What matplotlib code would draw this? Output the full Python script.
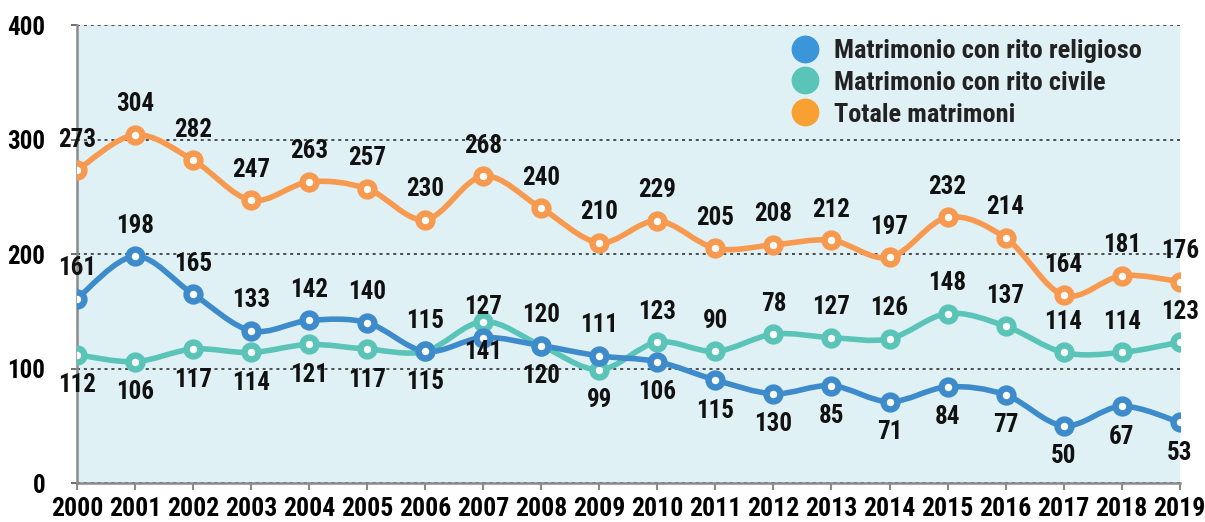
import numpy as np
import matplotlib.pyplot as plt
from matplotlib.path import Path
from matplotlib.patches import PathPatch
from matplotlib.lines import Line2D

plt.rcParams['font.family'] = ['Roboto Condensed', 'DejaVu Sans']
plt.rcParams['font.weight'] = 'bold'

years = list(range(2000, 2020))

# valori dei punti (posizione sul grafico)
religioso = [161, 198, 165, 133, 142, 140, 115, 127, 120, 111,
             106, 90, 78, 85, 71, 84, 77, 50, 67, 53]
civile = [112, 106, 117, 114, 121, 117, 115, 141, 120, 99,
          123, 115, 130, 127, 126, 148, 137, 114, 114, 123]
totale = [273, 304, 282, 247, 263, 257, 230, 268, 240, 210,
          229, 205, 208, 212, 197, 232, 214, 164, 181, 176]

# etichette come stampate nel grafico originale
lab_religioso = ['161', '198', '165', '133', '142', '140', '115', '127', '120', '111',
                 '106', '115', '130', '85', '71', '84', '77', '50', '67', '53']
lab_civile = ['112', '106', '117', '114', '121', '117', '115', '141', '120', '99',
              '123', '90', '78', '127', '126', '148', '137', '114', '114', '123']
lab_totale = [str(v) for v in totale]

# sopra (+1) o sotto (-1) il punto
pos_religioso = [1] * 10 + [-1] * 10
pos_civile = [-1] * 10 + [1] * 10
pos_totale = [1] * 20

c_rel = '#3d8bcb'
c_civ = '#5bc4b8'
c_tot = '#f7994e'


def smooth_path(x, y):
    pts = np.column_stack([x, y]).astype(float)
    n = len(pts)
    verts = [pts[0]]
    codes = [Path.MOVETO]
    for i in range(n - 1):
        p0 = pts[i - 1] if i > 0 else pts[i]
        p1 = pts[i]
        p2 = pts[i + 1]
        p3 = pts[i + 2] if i + 2 < n else pts[i + 1]
        c1 = p1 + (p2 - p0) / 6
        c2 = p2 - (p3 - p1) / 6
        verts += [c1, c2, p2]
        codes += [Path.CURVE4] * 3
    return Path(verts, codes)


fig = plt.figure(figsize=(12.05, 5.22), dpi=100)
ax = fig.add_axes([0.0639, 0.0747, 0.9151, 0.8773])
ax.set_facecolor('#e0f1f6')

for vals, labs, pos, col in [(civile, lab_civile, pos_civile, c_civ),
                             (religioso, lab_religioso, pos_religioso, c_rel),
                             (totale, lab_totale, pos_totale, c_tot)]:
    ax.add_patch(PathPatch(smooth_path(years, vals), fill=False, edgecolor=col,
                           lw=4, capstyle='round', joinstyle='round', zorder=3))
    ax.plot(years, vals, 'o', ls='none', ms=10, mew=4.6, mec=col, mfc='white', zorder=4)
    for x, v, t, p in zip(years, vals, labs, pos):
        ax.annotate(t, (x, v), xytext=(0, 22 * p), textcoords='offset points',
                    ha='center', va='center', fontsize=18, fontweight='bold',
                    color='#111111', zorder=5)

ax.set_xlim(2000, 2019)
ax.set_ylim(0, 400)
ax.set_xticks(years)
ax.set_yticks([0, 100, 200, 300, 400])
ax.grid(axis='y', color='#222222', ls=(0, (2, 2.5)), lw=1.1, zorder=1)
ax.set_axisbelow(True)

for s in ['top', 'right']:
    ax.spines[s].set_visible(False)
for s in ['left', 'bottom']:
    ax.spines[s].set_color('#8a8a8a')
    ax.spines[s].set_linewidth(1.8)

ax.tick_params(axis='x', length=5, width=1.5, color='#8a8a8a', pad=5, labelsize=18.5)
ax.tick_params(axis='y', length=4, width=1.2, color='#555555', pad=19, labelsize=18)
for lbl in ax.get_xticklabels() + ax.get_yticklabels():
    lbl.set_fontweight('bold')

handles = [Line2D([], [], ls='none', marker='o', ms=19, color='#3a96d9'),
           Line2D([], [], ls='none', marker='o', ms=19, color='#5ac4b9'),
           Line2D([], [], ls='none', marker='o', ms=19, color='#f9a033')]
leg = ax.legend(handles, ['Matrimonio con rito religioso', 'Matrimonio con rito civile',
                          'Totale matrimoni'],
                loc='upper right', bbox_to_anchor=(0.966, 0.97), frameon=False,
                fontsize=19, handlelength=1.1, handletextpad=0.55, labelspacing=0.3,
                borderpad=0, borderaxespad=0)
for t in leg.get_texts():
    t.set_color('#222222')
    t.set_fontweight('bold')

fig.savefig('out.png', dpi=100)
